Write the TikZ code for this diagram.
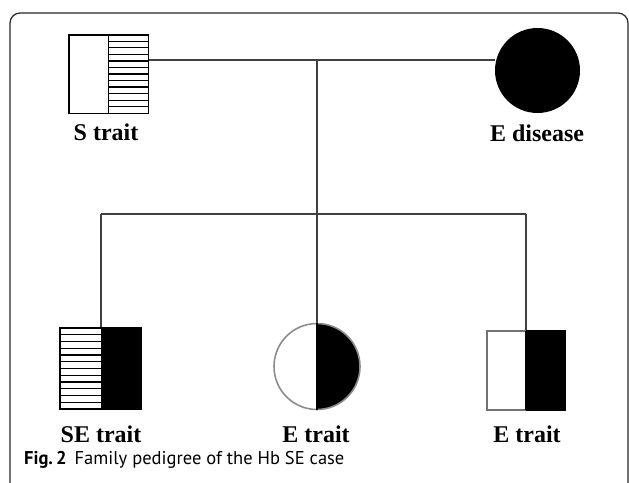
\documentclass[tikz,border=0pt]{standalone}
\usepackage{fontspec}
\setmainfont{Liberation Serif}
\newfontfamily\capfont{PT Sans}
\usetikzlibrary{calc}
\begin{document}
\begin{tikzpicture}[x=1pt,y=-1pt,
  conn/.style={draw=black!75,line width=2pt},
  sqbox/.style={rectangle,draw=black,line width=1.8pt,inner sep=0pt,minimum width=78pt,minimum height=77pt},
  circbox/.style={circle,inner sep=0pt,minimum size=85pt},
  stripe/.style={draw=black,line width=1.3pt},
  lbl/.style={font=\fontsize{24}{27}\selectfont\bfseries,inner sep=0pt},
  frameline/.style={draw=black!85,line width=1.2pt}]
\useasboundingbox (0,0) rectangle (629,482);
% frame
\draw[frameline,rounded corners=10pt] (10,488) -- (10,13) -- (628,13) -- (628,488);
% coordinates
\coordinate (m) at (317,60);
\coordinate (sib) at (317,214);
\coordinate (sl) at (100.5,214);
\coordinate (sr) at (526,214);
% shapes (positions)
\node[sqbox,fill=white] (father) at (108.5,74) {};
\node[circbox,fill=black] (mother) at (537.5,70.5) {};
\node[sqbox,minimum width=79pt,minimum height=79pt] (c1) at (100.5,368.5) {};
\node[circbox,minimum size=86pt] (c2) at (317,366.5) {};
\node[sqbox,minimum width=76pt,minimum height=77pt] (c3) at (526,370.5) {};
% connectors
\draw[conn] (father.east |- m) -- (mother.west |- m);
\draw[conn] (m) -- (c2.north);
\draw[conn] (sl) -- (sr);
\draw[conn] (sl) -- (c1.north);
\draw[conn] (sr) -- (c3.north);
% father details
\fill[white] (father.south west) rectangle (father.north east);
\foreach \i in {1,...,11}
  \draw[stripe] ($(father.north)!\i/12!(father.south)$) -- ($(father.north east)!\i/12!(father.south east)$);
\draw[line width=1.8pt] (father.north) -- (father.south);
\draw[line width=1.8pt] (father.south west) rectangle (father.north east);
% child 1 details
\fill[white] (c1.south west) rectangle (c1.north);
\fill[black] (c1.north) rectangle (c1.south east);
\foreach \i in {1,...,11}
  \draw[stripe] ($(c1.north west)!\i/12!(c1.south west)$) -- ($(c1.north)!\i/12!(c1.south)$);
\draw[line width=1.8pt] (c1.south west) rectangle (c1.north east);
% child 2 details
\fill[white] (c2.center) circle[radius=43];
\begin{scope}
  \clip (c2.north) rectangle ($(c2.south)+(50,0)$);
  \fill[black] (c2.center) circle[radius=43];
\end{scope}
\draw[black!45,line width=1.6pt] (c2.center) circle[radius=43];
\draw[black,line width=1.6pt] (c2.north) -- (c2.south);
\draw[conn] (m) -- (c2.north);
% child 3 details
\fill[white] (c3.south west) rectangle (c3.north);
\fill[black] (c3.north) rectangle (c3.south east);
\draw[black!55,line width=1.8pt] (c3.north) -- (c3.north west) -- (c3.south west) -- (c3.south);
\draw[black,line width=1.8pt] (c3.north) -- (c3.south);
\draw[black,line width=1.8pt] (c3.north) -- (c3.north east) -- (c3.south east) -- (c3.south);
% labels
\node[lbl] (l1) at (106,132) {S trait};
\node[lbl] (l2) at (537,133) {E disease};
\node[lbl] (l3) at (101,434) {SE trait};
\node[lbl] (l4) at (316,434) {E trait};
\node[lbl] (l5) at (527,434) {E trait};
\node[anchor=west,inner sep=0pt,font=\capfont\fontsize{18.5}{20}\selectfont] (cap) at (24,460) {\textbf{Fig.\,2}\hspace{8pt}Family pedigree of the Hb SE case};
\end{tikzpicture}
\end{document}
